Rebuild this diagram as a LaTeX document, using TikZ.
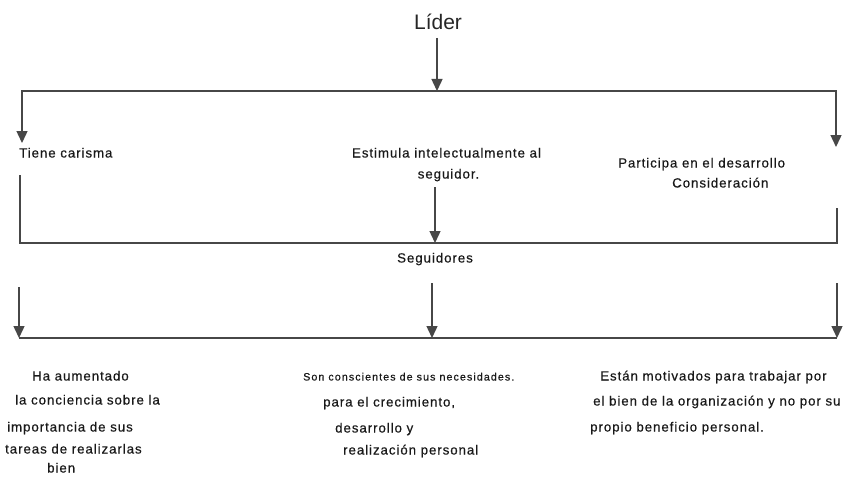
\documentclass[tikz,border=0pt]{standalone}
\usepackage{fontspec}
\setmainfont{Liberation Sans}
\newfontfamily\bodyfont[LetterSpace=7,FakeBold=0.4]{Liberation Sans}
\newfontfamily\smallfont[LetterSpace=10,FakeBold=0.4]{Liberation Sans}
\usetikzlibrary{arrows.meta}
\begin{document}
\begin{tikzpicture}[x=1pt,y=-1pt,
  ln/.style={line width=1.4pt,draw=black!72},
  arr/.style={ln,-{Triangle[length=12pt,width=11pt]}},
  txt/.style={inner sep=0pt,text=black!90,font=\bodyfont\fontsize{13.3}{15}\selectfont},
  sml/.style={inner sep=0pt,text=black!90,font=\smallfont\fontsize{10.7}{12}\selectfont},
  ttl/.style={inner sep=0pt,text=black!85,font=\fontsize{21}{24}\selectfont}]
\useasboundingbox (0,0) rectangle (858,476);
\fill[white] (0,0) rectangle (858,476);

% title
\node[ttl,anchor=base] (lider) at (438,30) {Líder};
\coordinate (lidbot) at (437,38);
\coordinate (b1m) at (437,91);
\coordinate (b1l) at (22,91);
\coordinate (b1r) at (836,91);
\coordinate (b1lt) at (22,143);
\coordinate (b1rt) at (836,147);
\draw[arr] (lidbot) -- (b1m);
\draw[arr] (b1m) -- (b1l) -- (b1lt);
\draw[arr] (b1m) -- (b1r) -- (b1rt);

% first-level texts
\node[txt,anchor=base west] (tiene) at (19,157.5) {Tiene carisma};
\node[txt,anchor=base] (estim1) at (446.5,157.5) {Estimula intelectualmente al};
\node[txt,anchor=base] (estim2) at (448.5,178.5) {seguidor.};
\node[txt,anchor=base west] (part1) at (618,167.5) {Participa en el desarrollo};
\node[txt,anchor=base west] (part2) at (672,187.5) {Consideración};

% second bracket
\coordinate (b2lt) at (20,175);
\coordinate (b2l) at (20,243);
\coordinate (b2r) at (837,243);
\coordinate (b2rt) at (837,208);
\coordinate (estbot) at (435,187);
\coordinate (b2m) at (435,243);
\draw[ln] (b2lt) -- (b2l) -- (b2r) -- (b2rt);
\draw[arr] (estbot) -- (b2m);

\node[txt,anchor=base] (seg) at (435,262.5) {Seguidores};

% third level arrows
\coordinate (a1s) at (19,287);
\coordinate (a1e) at (19,338);
\coordinate (a2s) at (432,283);
\coordinate (a2e) at (432,338);
\coordinate (a3s) at (837,283);
\coordinate (a3e) at (837,338);
\draw[ln] (a1e) -- (a3e);
\draw[arr] (a1s) -- (a1e);
\draw[arr] (a2s) -- (a2e);
\draw[arr] (a3s) -- (a3e);

% bottom texts left
\node[txt,anchor=base west] (l1) at (32,380.5) {Ha aumentado};
\node[txt,anchor=base west] (l2) at (15,404.5) {la conciencia sobre la};
\node[txt,anchor=base west] (l3) at (7,431.5) {importancia de sus};
\node[txt,anchor=base west] (l4) at (5,453.5) {tareas de realizarlas};
\node[txt,anchor=base west] (l5) at (47,472.5) {bien};

% bottom texts middle
\node[sml,anchor=base west] (m1) at (303,380.5) {Son conscientes de sus necesidades.};
\node[txt,anchor=base west] (m2) at (323,406.5) {para el crecimiento,};
\node[txt,anchor=base west] (m3) at (335,432.5) {desarrollo y};
\node[txt,anchor=base west] (m4) at (343,454.5) {realización personal};

% bottom texts right
\node[txt,anchor=base west] (r1) at (600,380.5) {Están motivados para trabajar por};
\node[txt,anchor=base west] (r2) at (593,405.5) {el bien de la organización y no por su};
\node[txt,anchor=base west] (r3) at (590,431.5) {propio beneficio personal.};
\end{tikzpicture}
\end{document}
